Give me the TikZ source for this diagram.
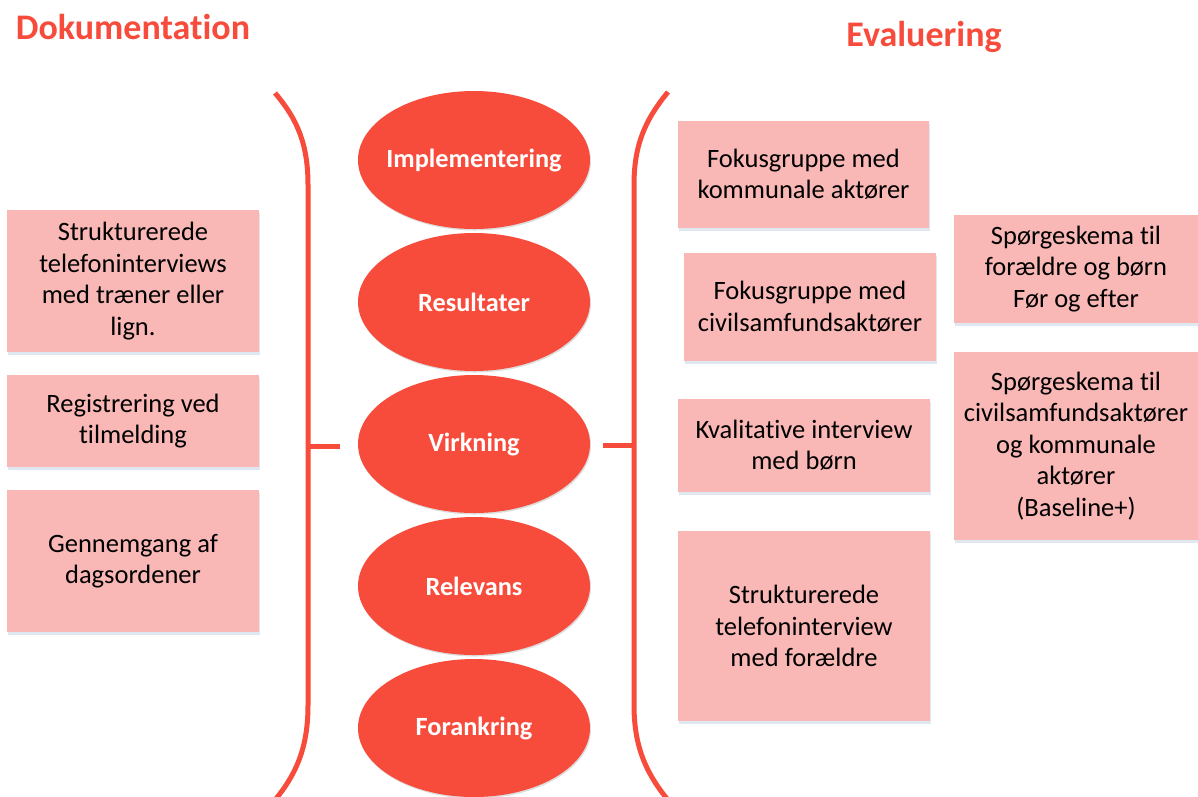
\documentclass[tikz,border=0pt]{standalone}
\usepackage{fontspec}
\setmainfont{Carlito}[Ligatures=NoCommon]
\usetikzlibrary{shapes.geometric,shadows}
\definecolor{accred}{HTML}{F74C3C}
\definecolor{boxpink}{HTML}{F9B8B5}
\definecolor{shadowblue}{HTML}{DCE4F0}
\newcommand{\stagetext}[1]{\makebox[0pt][c]{#1}}
\tikzset{
  boxfont/.style={font=\fontsize{26.5}{31.5}\selectfont},
  infobox/.style={rectangle, fill=boxpink, inner sep=0pt, align=center, boxfont,
    drop shadow={shadow xshift=1pt, shadow yshift=-3pt, fill=shadowblue, opacity=0.9}},
  stage/.style={ellipse, fill=accred, inner sep=0pt, minimum width=232pt, minimum height=138pt,
    text=white, font=\fontsize{26.3}{30}\selectfont\bfseries,
    drop shadow={shadow xshift=1pt, shadow yshift=-1.5pt, fill=gray!45, opacity=0.6}},
  heading/.style={text=accred, font=\fontsize{36}{40}\selectfont\bfseries, inner sep=0pt},
  bracket/.style={draw=accred, line width=5pt}
}
\begin{document}
\begin{tikzpicture}[x=1pt,y=-1pt]
\useasboundingbox (0,0) rectangle (1198,796);
\clip (0,0) rectangle (1198,796);
% headings
\node[heading] (hdok) at (133,27) {Dokumentation};
\node[heading] (heval) at (924,37) {Evaluering};
% brackets
\draw[bracket] (275,93) .. controls (298,120) and (308,145) .. (308,185) -- (308,705) .. controls (308,745) and (298,772) .. (275,800);
\coordinate (ltickA) at (308,446);
\coordinate (ltickB) at (340,446);
\draw[bracket] (ltickA) -- (ltickB);
\draw[bracket] (668,92) .. controls (645,120) and (634,145) .. (634,185) -- (634,705) .. controls (634,745) and (645,772) .. (668,800);
\coordinate (rtickA) at (634,445);
\coordinate (rtickB) at (603,445);
\draw[bracket] (rtickA) -- (rtickB);
% stages
\node[stage] (impl) at (474,160) {\stagetext{Implementering}};
\node[stage] (res) at (474,302) {\stagetext{Resultater}};
\node[stage] (virk) at (474,444) {\stagetext{Virkning}};
\node[stage] (rel) at (474,586) {\stagetext{Relevans}};
\node[stage] (for) at (474,728) {\stagetext{Forankring}};
% left boxes
\node[infobox, minimum width=252pt, minimum height=142pt] (l1) at (133,281) {\rule{0pt}{4pt}Strukturerede\\telefoninterviews\\med træner eller\\lign.};
\node[infobox, minimum width=252pt, minimum height=92pt] (l2) at (133,421) {\rule{0pt}{4pt}Registrering ved\\tilmelding};
\node[infobox, minimum width=252pt, minimum height=142pt] (l3) at (133,561) {\rule{0pt}{4pt}Gennemgang af\\dagsordener};
% right column 1
\node[infobox, minimum width=251pt, minimum height=107pt] (r1) at (803.5,174.5) {Fokusgruppe med\\kommunale aktører};
\node[infobox, minimum width=252pt, minimum height=108pt] (r2) at (810,307) {Fokusgruppe med\\civilsamfundsaktører};
\node[infobox, minimum width=252pt, minimum height=93pt] (r3) at (804,445.5) {Kvalitative interview\\med børn};
\node[infobox, minimum width=252pt, minimum height=190pt] (r4) at (804,626) {Strukturerede\\telefoninterview\\med forældre};
% right column 2
\node[infobox, minimum width=250pt, minimum height=108pt] (s1) at (1079,269) {};
\node[align=center, boxfont] (s1t) at (1076,269) {Spørgeskema til\\forældre og børn\\Før og efter};
\node[infobox, minimum width=250pt, minimum height=188pt] (s2) at (1079,446) {};
\node[align=center, boxfont] (s2t) at (1076,446) {Spørgeskema til\\civilsamfundsaktører\\og kommunale\\aktører\\(Baseline+)};
\end{tikzpicture}
\end{document}
